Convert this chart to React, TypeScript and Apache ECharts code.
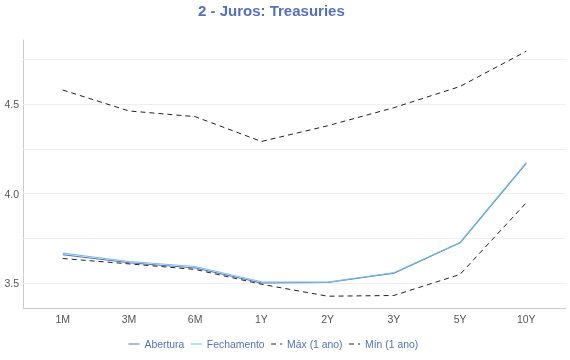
import React, { useEffect, useRef } from "react";
import * as echarts from "echarts";

const categories = ["1M", "3M", "6M", "1Y", "2Y", "3Y", "5Y", "10Y"];
const abertura = [3.658, 3.613, 3.584, 3.5, 3.503, 3.555, 3.725, 4.17];
const fechamento = [3.667, 3.62, 3.592, 3.507, 3.505, 3.557, 3.727, 4.174];
const maximo = [4.58, 4.463, 4.431, 4.292, 4.38, 4.481, 4.6, 4.797];
const minimo = [3.637, 3.607, 3.576, 3.493, 3.426, 3.43, 3.548, 3.949];
const gridValues = [3.5, 3.75, 4.0, 4.25, 4.5, 4.75];
const yLabelValues = [3.5, 4.0, 4.5];

const FONT = "'Liberation Sans', Arial, sans-serif";

export default function App() {
  const ref = useRef<HTMLDivElement>(null);
  useEffect(() => {
    if (!ref.current) return;
    const chart = echarts.init(ref.current, null, { renderer: "svg" });
    const toPairs = (arr: number[]) => arr.map((v, i) => [i, v]);
    chart.setOption({
      animation: false,
      textStyle: { fontFamily: FONT },
      title: {
        text: "2 - Juros: Treasuries",
        left: 193,
        top: -2,
        textStyle: { color: "#5470c6", fontSize: 15, fontWeight: "bold", fontFamily: FONT },
      },
      legend: {
        left: 123,
        top: 334,
        itemWidth: 11,
        itemHeight: 10,
        itemGap: 6,
        itemStyle: { opacity: 0 },
        lineStyle: { width: 1 },
        textStyle: { color: "#5470c6", fontSize: 10.4, fontFamily: FONT },
        data: ["Abertura", "Fechamento", "Máx (1 ano)", "Mín (1 ano)"],
      },
      grid: { left: 23, right: 4, top: 40, bottom: 52 },
      xAxis: {
        type: "value",
        min: -0.6,
        max: 7.6,
        splitNumber: 8,
        splitLine: { show: false },
        axisTick: { show: false },
        axisLine: { onZero: false, lineStyle: { color: "#cccccc" } },
        axisLabel: {
          showMinLabel: false,
          showMaxLabel: false,
          color: "#555",
          fontSize: 10.5,
          margin: 5,
          formatter: (v: number) => {
            const i = Math.round(v);
            return Math.abs(v - i) < 1e-6 && categories[i] ? categories[i] : "";
          },
        },
      },
      yAxis: {
        type: "value",
        min: 3.36,
        max: 4.86,
        splitNumber: 3,
        splitLine: { show: false },
        axisTick: { show: false },
        axisLine: { show: true, onZero: false, lineStyle: { color: "#cccccc" } },
        axisLabel: {
          showMinLabel: false,
          showMaxLabel: false,
          color: "#555",
          fontSize: 10.5,
          margin: 4,
          formatter: (v: number) =>
            yLabelValues.some((y) => Math.abs(y - v) < 1e-6) ? v.toFixed(1) : "",
        },
      },
      series: [
        {
          name: "Abertura",
          type: "line",
          symbol: "none",
          data: toPairs(abertura),
          lineStyle: { color: "#5470c6", width: 1.1 },
          itemStyle: { color: "#5470c6" },
          z: 3,
          markLine: {
            silent: true,
            symbol: "none",
            label: { show: false },
            lineStyle: { color: "#eeeeee", type: "solid", width: 1 },
            data: gridValues.map((v) => ({ yAxis: v })),
            z: 1,
          },
        },
        {
          name: "Fechamento",
          type: "line",
          symbol: "none",
          data: toPairs(fechamento),
          lineStyle: { color: "#73c0de", width: 1.1 },
          itemStyle: { color: "#73c0de" },
          z: 4,
        },
        {
          name: "Máx (1 ano)",
          type: "line",
          symbol: "none",
          data: toPairs(maximo),
          lineStyle: { color: "#222", width: 1, type: [5, 4] },
          itemStyle: { color: "#222" },
          z: 5,
        },
        {
          name: "Mín (1 ano)",
          type: "line",
          symbol: "none",
          data: toPairs(minimo),
          lineStyle: { color: "#222", width: 1, type: [5, 4] },
          itemStyle: { color: "#222" },
          z: 5,
        },
      ],
    });
    return () => chart.dispose();
  }, []);
  return (
    <div
      ref={ref}
      style={{ position: "fixed", left: 0, top: 0, width: 570, height: 360 }}
    />
  );
}
